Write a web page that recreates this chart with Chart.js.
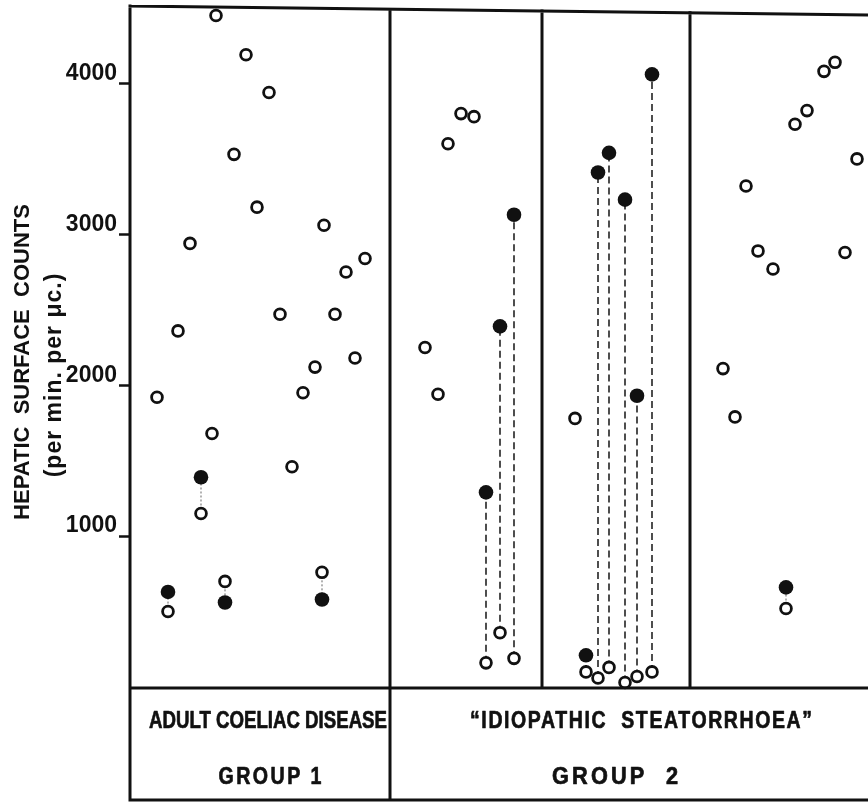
<!DOCTYPE html>
<html lang="en">
<head>
  <meta charset="UTF-8">
  <title>Hepatic surface counts</title>
  <style>
    html, body { margin: 0; padding: 0; background: #fff; }
    canvas { display: block; }
  </style>
  <script type="text/javascript" src="https://cdn.jsdelivr.net/npm/chart.js@4.4.1/dist/chart.umd.min.js"></script>
</head>
<body>
  <canvas id="chart" width="868" height="802"></canvas>

  <script type="text/javascript">
    // x is the column of each patient along the strip, y the count
    // single readings (open circles with no partner)
    var group1X = [2.7, 4.8, 6.0, 8.2, 8.6, 10.4, 11.6, 12.7, 13.9, 15.0, 16.2, 17.3, 18.5, 19.4, 20.5, 21.6, 22.5, 23.5]
    var group1Y = [1920, 2360, 2940, 1680, 4450, 3530, 4190, 3180, 3940, 2470, 1460, 1950, 2120, 3060, 2470, 2750, 2180, 2840]
    var group2X = [29.5, 30.8, 31.8, 33.1, 34.4, 44.5]
    var group2Y = [2250, 1940, 3600, 3800, 3780, 1780]
    var group3X = [59.3, 60.5, 61.6, 62.8, 64.3, 66.5, 67.7, 69.4, 70.5, 71.5, 72.7]
    var group3Y = [2110, 1790, 3320, 2890, 2770, 3730, 3820, 4080, 4140, 2880, 3500]

    // paired readings: open circle and filled circle in the same column
    var pairX = [3.8, 7.1, 9.5, 19.2, 35.6, 37.0, 38.4, 45.6, 46.8, 47.9, 49.5, 50.7, 52.2, 65.6]
    var pairOpenY = [500, 1150, 700, 760, 160, 360, 190, 100, 60, 130, 30, 70, 100, 520]
    var pairFilledY = [630, 1390, 560, 580, 1290, 2390, 3130, 210, 3410, 3540, 3230, 1930, 4060, 660]

    var yTicks = [1000, 2000, 3000, 4000]
    // panel boundaries on the x scale
    var dividers = [26.0, 41.2, 56.0]

    var topRow = ['ADULT COELIAC DISEASE', '\u201CIDIOPATHIC  STEATORRHOEA\u201D']
    var bottomRow = ['GROUP 1', 'GROUP  2']

    function points(xs, ys) {
      return xs.map(function (x, i) { return { x: x, y: ys[i] } })
    }

    var openPoints = points(group1X, group1Y)
      .concat(points(group2X, group2Y))
      .concat(points(group3X, group3Y))
      .concat(points(pairX, pairOpenY))

    var datasets = [{
      label: 'open',
      data: openPoints,
      pointRadius: 5.4,
      pointBorderWidth: 2.8,
      pointBackgroundColor: '#fff',
      pointBorderColor: '#111',
      clip: false
    }, {
      label: 'filled',
      data: points(pairX, pairFilledY),
      pointRadius: 7.3,
      pointBorderWidth: 0,
      pointBackgroundColor: '#111',
      pointBorderColor: '#111',
      clip: false
    }]

    // link each pair, dashed in group 2, dotted elsewhere
    pairX.forEach(function (x, i) {
      var inGroup2 = x > dividers[0] && x < dividers[2]
      datasets.push({
        type: 'line',
        label: 'link' + i,
        data: [{ x: x, y: pairOpenY[i] }, { x: x, y: pairFilledY[i] }],
        borderColor: inGroup2 ? '#222' : '#666',
        borderWidth: inGroup2 ? 1.6 : 1,
        borderDash: inGroup2 ? [7, 4] : [2, 2],
        pointRadius: 0,
        fill: false
      })
    })

    // squeeze a label into a given width (the lettering is narrow)
    function fitText(c, txt, cx, cy, width, spacing) {
      c.letterSpacing = spacing + 'px'
      var w = c.measureText(txt).width - spacing
      c.save()
      c.translate(cx, cy)
      c.scale(width / w, 1)
      c.fillText(txt, spacing / 2, 0)
      c.strokeText(txt, spacing / 2, 0)
      c.restore()
    }

    var frame = {
      id: 'frame',
      afterDatasetsDraw: function (chart) {
        var c = chart.ctx
        var a = chart.chartArea
        var xs = chart.scales.x
        var left = a.left, right = a.right
        var bottom = a.bottom + 1
        var tableBottom = 800
        // scanned page is a little skewed at the top
        function topAt(px) { return 6 + (px - left) * 9 / (right - left) }

        c.save()
        c.strokeStyle = '#111'
        c.lineWidth = 3
        c.lineCap = 'square'
        c.beginPath()
        c.moveTo(left, topAt(left)); c.lineTo(right, topAt(right))
        c.moveTo(left, topAt(left)); c.lineTo(left, tableBottom)
        c.moveTo(left, bottom); c.lineTo(right, bottom)
        c.moveTo(left, tableBottom); c.lineTo(right, tableBottom)
        dividers.forEach(function (d, i) {
          var px = xs.getPixelForValue(d)
          c.moveTo(px, topAt(px))
          c.lineTo(px, i === 0 ? tableBottom : bottom)
        })
        c.stroke()

        c.fillStyle = '#111'
        c.textBaseline = 'middle'
        c.textAlign = 'center'
        c.lineWidth = 0.7
        c.lineJoin = 'round'

        // table labels
        c.font = 'bold 24px "Liberation Sans", sans-serif'
        fitText(c, topRow[0], 268, 721, 238, 0)
        fitText(c, topRow[1], 641, 721, 342, 2)
        fitText(c, bottomRow[0], 270, 777, 103, 3)
        fitText(c, bottomRow[1], 615, 777, 126, 3.5)

        // axis title, two lines
        c.letterSpacing = '0px'
        c.translate(23, 362)
        c.rotate(-Math.PI / 2)
        c.font = 'bold 22px "Liberation Sans", sans-serif'
        c.fillText('HEPATIC  SURFACE  COUNTS', 0, 0)
        c.font = 'bold 23px "Liberation Sans", sans-serif'
        c.letterSpacing = '1px'
        c.fillText('(per min. per \u03BCc.)', -13, 32)
        c.restore()
      }
    }

    var ctx = document.getElementById('chart').getContext('2d')
    var chart = new Chart(ctx, {
      type: 'scatter',
      data: { datasets: datasets },
      options: {
        responsive: false,
        animation: false,
        layout: { autoPadding: false, padding: { left: 0, right: 0, top: 8, bottom: 115 } },
        plugins: {
          legend: { display: false },
          tooltip: { enabled: false }
        },
        scales: {
          x: { type: 'linear', display: false, min: 0, max: 73.8 },
          y: {
            type: 'linear',
            min: 0,
            max: 4500,
            afterBuildTicks: function (s) {
              s.ticks = yTicks.map(function (v) { return { value: v } })
            },
            afterFit: function (s) {
              s.width = 130
              s.paddingTop = 0
              s.paddingBottom = 0
            },
            border: { display: false },
            grid: {
              drawOnChartArea: false,
              drawTicks: true,
              tickLength: 11,
              tickWidth: 2.5,
              tickColor: '#111'
            },
            ticks: {
              padding: 2,
              labelOffset: -10,
              color: '#111',
              font: { family: 'Liberation Sans', weight: 'bold', size: 23 },
              callback: function (v) { return String(v) }
            }
          }
        }
      },
      plugins: [frame]
    })
  </script>
</body>
</html>
